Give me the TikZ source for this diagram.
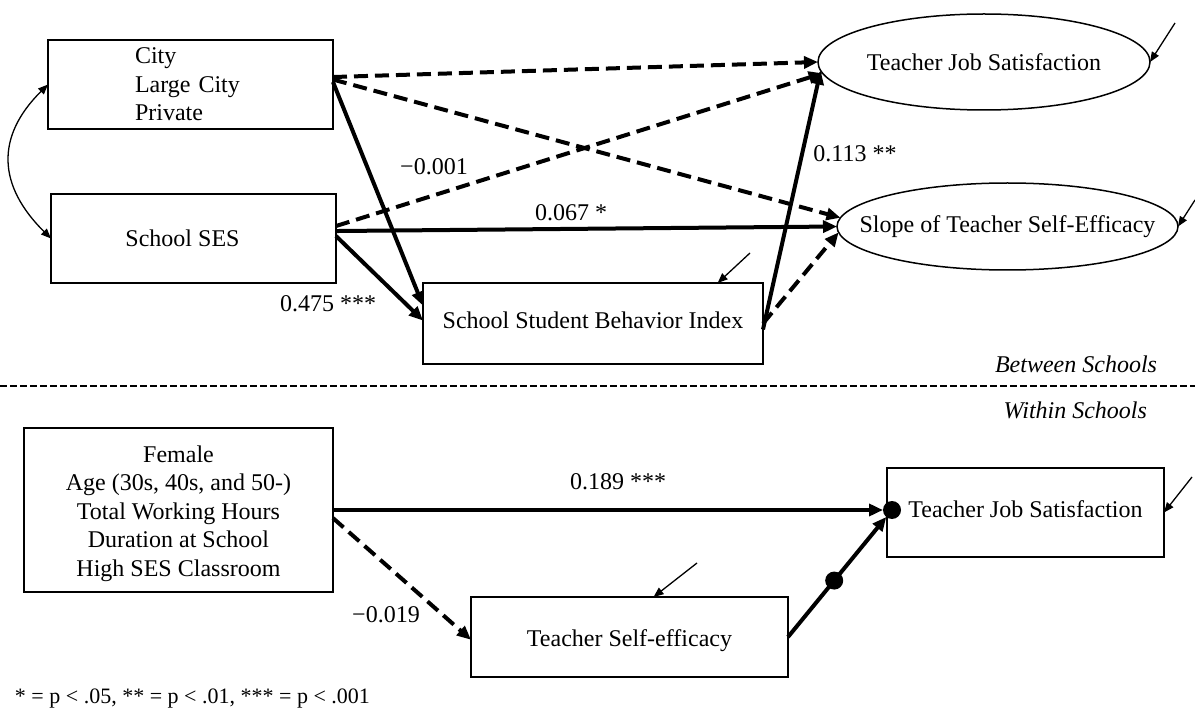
\documentclass[tikz,border=0pt]{standalone}
\usepackage{fontspec}
\setmainfont{Liberation Serif}
\usetikzlibrary{arrows.meta,shapes.geometric}
\begin{document}
\begin{tikzpicture}[x=1pt,y=-1pt,
  every node/.style={font=\fontsize{24}{28.5}\selectfont, inner sep=0pt, outer sep=0pt},
  box/.style={draw, line width=1.5pt, rectangle},
  oval/.style={draw, line width=1.5pt, ellipse},
  solidarrow/.style={line width=4pt, -{Triangle[length=14pt,width=12pt]}},
  dasharrow/.style={line width=4pt, dash pattern=on 14pt off 7pt, -{Triangle[length=14pt,width=12pt]}},
  errarrow/.style={line width=1.3pt, -{Triangle[length=10pt,width=8pt]}},
  corr/.style={line width=1.3pt, {Triangle[length=10pt,width=8pt]}-{Triangle[length=10pt,width=8pt]}},
  dotnode/.style={circle, fill=black, minimum size=18pt},
  divider/.style={line width=1.3pt, dash pattern=on 7pt off 3pt},
  sect/.style={anchor=east, font=\fontsize{24}{28.5}\selectfont\itshape},
]
\useasboundingbox (0,0) rectangle (1195,711);

% ---- between schools ----
\node[box, minimum width=285, minimum height=89, text width=111pt, align=left] (A) at (190.5,84.5) {City\\Large City\\Private};
\node[box, minimum width=285, minimum height=89] (B) at (193.5,238.5) {School SES\hspace*{22pt}};
\node[box, minimum width=340, minimum height=81, text height=16pt, text depth=5pt] (C) at (593,323.5) {School Student Behavior Index};
\node[oval, minimum width=332, minimum height=96] (E1) at (984,62) {\makebox[0pt]{Teacher Job Satisfaction}};
\node[oval, minimum width=341, minimum height=87] (E2) at (1007.5,226.5) {\makebox[0pt]{Slope of Teacher Self-Efficacy}};

\draw[corr] (A.west) .. controls (-5,137) and (-2,186) .. (B.west);

\draw[dasharrow] (A.3) -- (E1.west);
\draw[dasharrow] (A.2) -- (E2.177);
\draw[solidarrow] (A.1) -- (C.174);
\draw[dasharrow] (B.5) -- (E1.184);
\draw[solidarrow] (B.3) -- (E2.west);
\draw[solidarrow] (B.1) -- (C.179);
\draw[solidarrow] (C.358) -- (E1.183);
\draw[dasharrow] (C.east) -- (E2.182);

\node (l001) at (434,167) {−0.001};
\node (l067) at (571,213) {0.067 *};
\node (l475) at (328,304) {0.475 ***};
\node (l113) at (855,154) {0.113 **};

\coordinate (eE1) at (1175,23);
\coordinate (eE2) at (1195,200);
\coordinate (eC) at (750,253);
\draw[errarrow] (eE1) -- (E1.east);
\draw[errarrow] (eE2) -- (E2.east);
\draw[errarrow] (eC) -- (C.18);

% ---- divider ----
\coordinate (dl) at (0,386);
\coordinate (dr) at (1195,386);
\draw[divider] (dl) -- (dr);
\node[sect] (between) at (1157,364) {Between Schools};
\node[sect] (within) at (1147,410) {Within Schools};

% ---- within schools ----
\node[box, minimum width=309, minimum height=164, align=center] (D) at (178.5,510)
  {\rule{0pt}{24pt}Female\\Age (30s, 40s, and 50-)\\Total Working Hours\\Duration at School\\High SES Classroom};
\node[box, minimum width=317, minimum height=80, text height=18pt, text depth=0pt] (E) at (629.5,637) {Teacher Self-efficacy};
\node[box, minimum width=277, minimum height=89, text height=14pt, text depth=5pt] (F) at (1025.5,512.5) {Teacher Job Satisfaction};
\node[dotnode] (dotF) at (892,510) {};

\draw[solidarrow] (D.east) -- (dotF);
\draw[dasharrow] (D.357) -- (E.181);
\draw[solidarrow] (E.east) -- node[dotnode, pos=0.47] (dotE) {} (dotF);

\node (l189) at (618,482) {0.189 ***};
\node (l019) at (386,615) {−0.019};

\coordinate (eE) at (697,563);
\coordinate (eF) at (1192,477);
\draw[errarrow] (eE) -- (E.59);
\draw[errarrow] (eF) -- (F.east);

\node[anchor=west, font=\fontsize{22}{26}\selectfont] (note) at (15,699) {* = p < .05, ** = p < .01, *** = p < .001};
\end{tikzpicture}
\end{document}
